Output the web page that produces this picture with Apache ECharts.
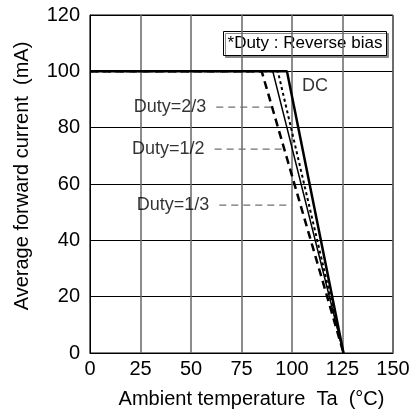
<!DOCTYPE html>
<html>
<head>
<meta charset="utf-8">
<script src="https://cdn.jsdelivr.net/npm/echarts@6/dist/echarts.min.js"></script>
<style>html,body{margin:0;padding:0;background:#fff}#c{width:414px;height:418px}</style>
</head>
<body>
<div id="c"></div>
<script>
// Data
const xTicks = [0, 25, 50, 75, 100, 125, 150];
const yTicks = [0, 20, 40, 60, 80, 100, 120];
const dcLine = [[0, 100], [97.5, 100], [125.5, 0]];
const duty13Line = [[0, 100], [93, 100], [125.5, 0]];
const duty12Line = [[0, 100], [90.5, 100], [125.5, 0]];
const duty23Line = [[0, 100], [85, 100], [125.5, 0]];
const pointer23 = [[62.5, 87.3], [92, 87.3]];
const pointer12 = [[61.7, 72.4], [95, 72.4]];
const pointer13 = [[64, 52.5], [100, 52.5]];
const labelNames = ['Duty=2/3', 'Duty=1/2', 'Duty=1/3'];
const dcLabel = [[105, 94.8]];

const FONT = 'Liberation Sans, Arial, sans-serif';
const chart = echarts.init(document.getElementById('c'));

function pointerSeries(data) {
  return {
    type: 'line', data: data, symbol: 'none', silent: true, z: 3,
    lineStyle: {color: '#707070', width: 1.3, type: [7, 5]}
  };
}

chart.setOption({
  animation: false,
  grid: {left: 90, right: 21, top: 15, bottom: 65, show: true, borderColor: '#000', borderWidth: 1},
  xAxis: {
    type: 'value', min: 0, max: 150, interval: 25,
    name: 'Ambient temperature  Ta  (\u00B0C)', nameLocation: 'middle', nameGap: 36,
    nameTextStyle: {fontSize: 20, fontFamily: FONT, color: '#000', padding: [0, 0, 0, 20]},
    axisLine: {show: true, lineStyle: {color: '#000', width: 1}},
    axisTick: {show: false},
    axisLabel: {fontSize: 20, fontFamily: FONT, color: '#000', margin: 6,
      formatter: v => xTicks.includes(v) ? String(v) : ''},
    splitLine: {show: true, lineStyle: {color: '#666', width: 1.5}}
  },
  yAxis: {
    type: 'value', min: 0, max: 120, interval: 20,
    name: 'Average forward current  (mA)', nameLocation: 'middle', nameGap: 58,
    nameTextStyle: {fontSize: 20, fontFamily: FONT, color: '#000', padding: [0, 0, 0, 16]},
    axisLine: {show: true, lineStyle: {color: '#000', width: 1}},
    axisTick: {show: false},
    axisLabel: {fontSize: 20, fontFamily: FONT, color: '#000', margin: 10,
      formatter: v => yTicks.includes(v) ? String(v) : ''},
    splitLine: {show: true, lineStyle: {color: '#000', width: 1}}
  },
  series: [
    pointerSeries(pointer23),
    pointerSeries(pointer12),
    pointerSeries(pointer13),
    {type: 'scatter', symbolSize: 0, silent: true, z: 6,
      data: [pointer23[0], pointer12[0], pointer13[0]].map((p, i) => ({value: p, name: labelNames[i]})),
      label: {show: true, position: 'left', distance: 10, formatter: '{b}', color: '#000', fontSize: 18, fontFamily: FONT}},
    {type: 'line', data: duty23Line, symbol: 'none', z: 4, lineStyle: {color: '#000', width: 2.5, type: [8, 5]}},
    {type: 'line', data: duty12Line, symbol: 'none', z: 4, lineStyle: {color: '#000', width: 1.5, type: 'solid'}},
    {type: 'line', data: duty13Line, symbol: 'none', z: 4, lineStyle: {color: '#000', width: 2, type: [3, 3]}},
    {type: 'line', data: dcLine, symbol: 'none', z: 5, lineStyle: {color: '#000', width: 2.5, type: 'solid'}},
    {type: 'scatter', data: dcLabel, symbolSize: 0, silent: true, z: 6,
      label: {show: true, position: 'right', distance: 0, formatter: 'DC', color: '#000', fontSize: 18, fontFamily: FONT}}
  ],
  graphic: [{
    type: 'group', left: 223, top: 31, z: 10,
    children: [
      {type: 'rect', shape: {x: 0, y: 0, width: 163, height: 24},
        style: {fill: '#fff', stroke: '#000', lineWidth: 1, shadowColor: '#888', shadowOffsetX: 2, shadowOffsetY: 2, shadowBlur: 0}},
      {type: 'text', x: 81.5, y: 12, style: {text: '*Duty : Reverse bias', fontSize: 17, fontFamily: FONT, fill: '#000', align: 'center', verticalAlign: 'middle'}}
    ]
  }]
});
</script>
</body>
</html>
